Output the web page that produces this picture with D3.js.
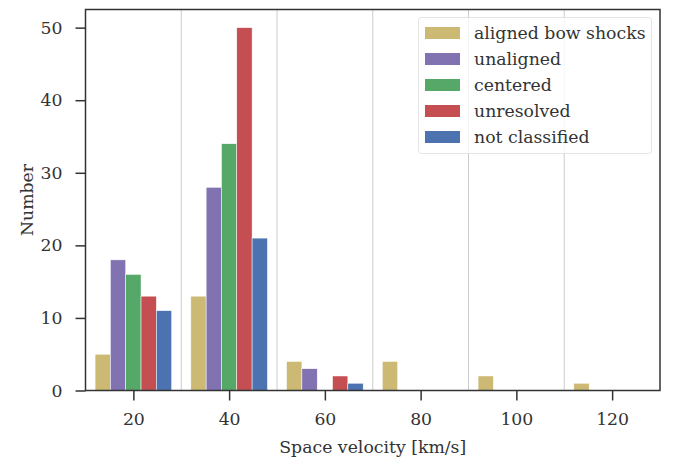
<!DOCTYPE html>
<html><head><meta charset="utf-8">
<script src="https://cdn.jsdelivr.net/npm/d3@7"></script>
<style>body{margin:0;background:#fff}</style>
</head><body>
<svg id="c" width="681" height="457"></svg>
<script>
const binEdges = [10, 30, 50, 70, 90, 110, 130];
const seriesNames = ["aligned bow shocks", "unaligned", "centered", "unresolved", "not classified"];
const seriesColors = ["#ccb974", "#8172b2", "#55a868", "#c44e52", "#4c72b0"];
const aligned = [5, 13, 4, 4, 2, 1];
const unaligned = [18, 28, 3, 0, 0, 0];
const centered = [16, 34, 0, 0, 0, 0];
const unresolved = [13, 50, 2, 0, 0, 0];
const notClassified = [11, 21, 1, 0, 0, 0];
const seriesValues = [aligned, unaligned, centered, unresolved, notClassified];
const xTicks = [20, 40, 60, 80, 100, 120];
const yTicks = [0, 10, 20, 30, 40, 50];
const gridX = [30, 50, 70, 90, 110];

const svg = d3.select("#c");
const L = 85.5, R = 660, T = 9.5, B = 390.5;
const x = d3.scaleLinear().domain([10, 130]).range([L, R]);
const y = d3.scaleLinear().domain([0, 52.5]).range([B, T]);
const font = "DejaVu Serif";
const fs = "17.3px";
const ink = "#333333";

// grid
svg.append("g").selectAll("line").data(gridX).join("line")
  .attr("x1", d => x(d)).attr("x2", d => x(d)).attr("y1", T).attr("y2", B)
  .attr("stroke", "#cccccc").attr("stroke-width", 1);

// bars
const nS = seriesNames.length;
seriesValues.forEach((vals, si) => {
  svg.append("g").selectAll("rect").data(vals).join("rect")
    .attr("x", (d, i) => {
      const w = binEdges[i + 1] - binEdges[i];
      return x(binEdges[i] + 0.1 * w + si * 0.8 * w / nS);
    })
    .attr("width", (d, i) => {
      const w = binEdges[i + 1] - binEdges[i];
      return x(binEdges[i] + 0.8 * w / nS) - x(binEdges[i]);
    })
    .attr("y", d => y(d))
    .attr("height", d => y(0) - y(d))
    .attr("fill", seriesColors[si])
    .attr("stroke", d => d > 0 ? "#ffffff" : "none")
    .attr("stroke-width", 0.5);
});

// frame
svg.append("rect").attr("x", L).attr("y", T).attr("width", R - L).attr("height", B - T)
  .attr("fill", "none").attr("stroke", ink).attr("stroke-width", 1.5);

// axes
const xAxis = svg.append("g").attr("transform", `translate(0,${B})`)
  .call(d3.axisBottom(x).tickValues(xTicks).tickSize(10).tickPadding(12).tickFormat(d3.format("d")));
const yAxis = svg.append("g").attr("transform", `translate(${L},0)`)
  .call(d3.axisLeft(y).tickValues(yTicks).tickSize(10).tickPadding(13).tickFormat(d3.format("d")));
[xAxis, yAxis].forEach(a => {
  a.select(".domain").remove();
  a.selectAll(".tick line").attr("stroke", ink).attr("stroke-width", 1.5);
  a.selectAll(".tick text").attr("fill", ink).style("font-family", font).style("font-size", fs);
});
xAxis.selectAll(".tick text").attr("dy", "0.71em");

// labels
svg.append("text").attr("x", (L + R) / 2).attr("y", 453).attr("text-anchor", "middle")
  .style("font-family", font).style("font-size", fs).attr("fill", ink).text("Space velocity [km/s]");
svg.append("text").attr("transform", `translate(33,${(T + B) / 2}) rotate(-90)`).attr("text-anchor", "middle")
  .style("font-family", font).style("font-size", fs).attr("fill", ink).text("Number");

// legend
const lg = svg.append("g");
lg.append("rect").attr("x", 418.5).attr("y", 17.5).attr("width", 233).attr("height", 136).attr("rx", 3)
  .attr("fill", "#ffffff").attr("fill-opacity", 0.8).attr("stroke", "#dddddd").attr("stroke-opacity", 0.8);
seriesNames.forEach((n, i) => {
  const cy = 33 + i * 26;
  lg.append("rect").attr("x", 425).attr("y", cy - 6).attr("width", 35).attr("height", 12).attr("fill", seriesColors[i]);
  lg.append("text").attr("x", 474).attr("y", cy).attr("dy", "0.35em")
    .style("font-family", font).style("font-size", fs).attr("fill", ink).text(n);
});
</script>
</body></html>
